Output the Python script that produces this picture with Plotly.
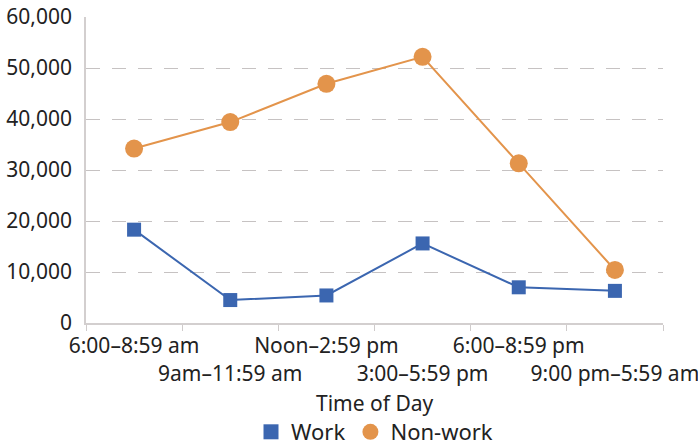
import plotly.graph_objects as go

categories = ["6:00–8:59 am", "9am–11:59 am", "Noon–2:59 pm", "3:00–5:59 pm",
              "6:00–8:59 pm", "9:00 pm–5:59 am"]
work = [18300, 4500, 5400, 15600, 7000, 6300]
non_work = [34200, 39400, 46900, 52200, 31300, 10400]
y_ticks = [0, 10000, 20000, 30000, 40000, 50000, 60000]
x_title = "Time of Day"

tick_text = [c if i % 2 == 0 else "\u00a0<br>" + c for i, c in enumerate(categories)]

FONT = "Noto Sans"
BLUE = "#3b66b0"
ORANGE = "#e3944b"
GRID = "#c6c2c2"

fig = go.Figure()
fig.add_trace(go.Scatter(
    x=categories, y=work, name="Work", mode="lines+markers", showlegend=False,
    line=dict(color=BLUE, width=2),
    marker=dict(symbol="square", size=14, color=BLUE),
))
fig.add_trace(go.Scatter(
    x=categories, y=non_work, name="Non-work", mode="lines+markers", showlegend=False,
    line=dict(color=ORANGE, width=2),
    marker=dict(symbol="circle", size=18, color=ORANGE),
))
# legend entries (markers only, as in the reference)
fig.add_trace(go.Scatter(x=[None], y=[None], name="Work", mode="markers",
                         marker=dict(symbol="square", size=15, color=BLUE)))
fig.add_trace(go.Scatter(x=[None], y=[None], name="Non-work", mode="markers",
                         marker=dict(symbol="circle", size=17, color=ORANGE)))

fig.update_layout(
    width=698, height=445,
    margin=dict(l=86, r=35, t=17, b=122, autoexpand=False),
    plot_bgcolor="white", paper_bgcolor="white",
    font=dict(family=FONT, color="#222222", size=21),
    showlegend=True,
    legend=dict(orientation="h", x=0.5, xanchor="center", yref="container",
                y=13 / 445, yanchor="middle", font=dict(size=22),
                itemwidth=30, tracegroupgap=0, bgcolor="rgba(0,0,0,0)"),
    xaxis=dict(
        type="category", tickmode="array", tickvals=categories, ticktext=tick_text,
        range=[-0.5, len(categories) - 0.5],
        tickson="boundaries", ticks="outside", ticklen=6, tickcolor="#cfcbcb",
        showline=True, linecolor="#d3cfcf", linewidth=2, showgrid=False,
        tickangle=0, automargin=False, ticklabelstandoff=3,
        tickfont=dict(size=21),
    ),
    yaxis=dict(
        range=[0, 60000], tickvals=y_ticks, tickformat=",",
        showline=True, linecolor="#d3cfcf", linewidth=1.5, automargin=False,
        showgrid=True, gridcolor=GRID, griddash="14px,12px", gridwidth=1,
        zeroline=False, ticks="", ticklabelstandoff=8,
        tickfont=dict(size=21),
    ),
    annotations=[dict(
        text=x_title, xref="paper", yref="paper", x=0.5, y=-(403 - 323) / 306,
        xanchor="center", yanchor="middle", showarrow=False,
        font=dict(size=21, family=FONT, color="#222222"),
    )],
)

fig.write_html("out.html", config={"displayModeBar": False},
               post_script="document.body.style.margin='0';document.body.style.overflow='hidden';")
